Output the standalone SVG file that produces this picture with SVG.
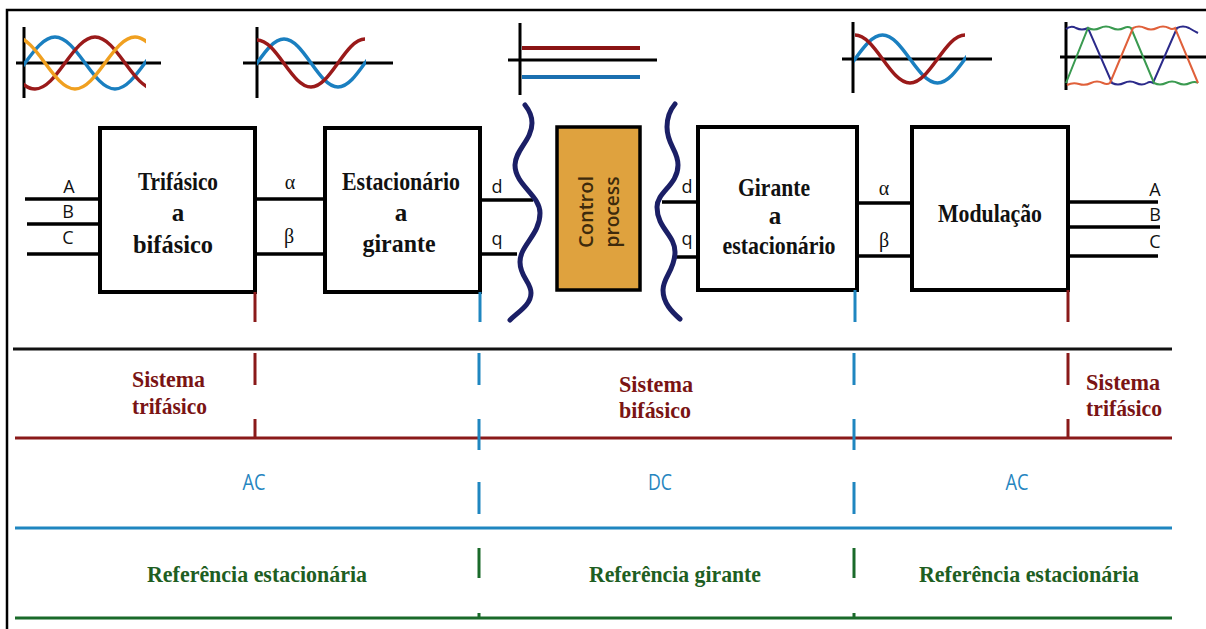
<svg xmlns="http://www.w3.org/2000/svg" width="1206" height="629" viewBox="0 0 1206 629">
<style>
.box{fill:#fff;stroke:#000;stroke-width:4}
.ln{stroke:#000;stroke-width:3.5;fill:none}
.ax{stroke:#000;stroke-width:3;fill:none}
.bt{font-family:"Liberation Serif",serif;font-weight:bold;font-size:25px;fill:#111;text-anchor:middle}
.lb{font-family:"Open Sans","Liberation Sans",sans-serif;font-size:18px;fill:#111;text-anchor:middle}
.gk{font-family:"Liberation Serif",serif;font-size:20px;fill:#111;text-anchor:middle}
.sr{font-family:"Liberation Serif",serif;font-weight:bold;font-size:24px;fill:#7a1414}
.sg{font-family:"Liberation Serif",serif;font-weight:bold;font-size:24px;fill:#1e5e22;text-anchor:middle}
.ac{font-family:"Open Sans","Liberation Sans",sans-serif;font-size:22px;fill:#2585c0;text-anchor:middle}
.cp{font-family:"Open Sans","Liberation Sans",sans-serif;font-size:20px;font-weight:600;fill:#3d2a0c;text-anchor:middle}
.wv{stroke:#1b1f66;stroke-width:5;fill:none;stroke-linecap:round}
.r{stroke:#8a1a1a;stroke-width:3;fill:none}
.b{stroke:#1f86c0;stroke-width:3;fill:none}
.g{stroke:#1a6a2a;stroke-width:3;fill:none}
.sb{stroke:#1a7fc0;stroke-width:3.5;fill:none}
.sred{stroke:#9a1a1a;stroke-width:3.5;fill:none}
.so{stroke:#f0a020;stroke-width:3.5;fill:none}
</style>
<defs>
<clipPath id="c1"><rect x="24" y="0" width="122" height="110"/></clipPath>
<clipPath id="c2"><rect x="257" y="0" width="109" height="110"/></clipPath>
<clipPath id="c4"><rect x="854" y="0" width="112" height="110"/></clipPath>
</defs>
<rect width="1206" height="629" fill="#fff"/>
<path d="M7,629 V10 H1206" stroke="#000" stroke-width="2.5" fill="none"/>

<g id="icons">
<g id="icon1">
<line class="ax" x1="24" y1="27" x2="24" y2="98"/>
<line class="ax" x1="16" y1="63" x2="161" y2="63"/>
<g clip-path="url(#c1)">
<path class="sb" d="M-5,89 C16.8,89 33.2,37 55,37 C76.8,37 93.2,89 115,89 C136.8,89 153.2,37 175,37"/>
<path class="sred" d="M-25,37 C-3.2,37 13.2,89 35,89 C56.8,89 73.2,37 95,37 C116.8,37 133.2,89 155,89"/>
<path class="so" d="M15,37 C36.8,37 53.2,89 75,89 C96.8,89 113.2,37 135,37 C156.8,37 173.2,89 195,89"/>
</g>
</g>
<g id="icon2">
<line class="ax" x1="257" y1="27" x2="257" y2="98"/>
<line class="ax" x1="243" y1="63" x2="393" y2="63"/>
<g clip-path="url(#c2)">
<path class="sb" d="M230,87 C249.7,87 264.3,39 284,39 C303.7,39 318.3,87 338,87 C357.7,87 372.3,39 392,39"/>
<path class="sred" d="M257,40 C276.7,40 291.3,87 311,87 C330.7,87 345.3,39 365,39"/>
</g>
</g>
<g id="icon3">
<line class="ax" x1="520" y1="23" x2="520" y2="95"/>
<line class="ax" x1="508" y1="60" x2="657" y2="60"/>
<line x1="522" y1="48" x2="640" y2="48" stroke="#8a1414" stroke-width="4"/>
<line x1="522" y1="77" x2="640" y2="77" stroke="#1a6fb0" stroke-width="4"/>
</g>
<g id="icon4">
<line class="ax" x1="853" y1="22" x2="853" y2="93"/>
<line class="ax" x1="842" y1="59" x2="992" y2="59"/>
<g clip-path="url(#c4)">
<path class="sb" d="M827.5,83 C847.5,83 862.5,35 882.5,35 C902.5,35 917.5,83 937.5,83 C957.5,83 972.5,35 992.5,35"/>
<path class="sred" d="M855,35 C875,35 890,83 910,83 C930,83 945,35 965,35"/>
</g>
</g>
<g id="icon5">
<line class="ax" x1="1066" y1="22" x2="1066" y2="90"/>
<line class="ax" x1="1060" y1="57" x2="1206" y2="57"/>
<path d="M1066,29 Q1071,25 1076,28 Q1082,31 1088,28 L1112,83 Q1118,86 1124,83 Q1130,80 1136,83 Q1142,86 1147,83 Q1150,81 1153,83 L1177,28 Q1183,25 1189,28 Q1194,31 1198,33" stroke="#2b2a8a" stroke-width="2" fill="none"/>
<path d="M1066,83 L1088,28 Q1094,31 1100,28 Q1106,25 1112,28 Q1118,31 1124,28 Q1128,26 1131,28 L1154,83 Q1160,86 1166,83 Q1172,80 1178,83 Q1184,86 1190,83 Q1195,81 1198,83" stroke="#3a9a50" stroke-width="2" fill="none"/>
<path d="M1067,85 Q1073,82 1079,84 Q1085,86 1091,83 Q1097,80 1103,83 Q1107,85 1110,83 L1133,28 Q1139,25 1145,28 Q1151,31 1157,28 Q1163,25 1169,28 Q1172,30 1175,28 L1198,83" stroke="#e0603a" stroke-width="2" fill="none"/>
</g>
</g>

<g id="connectors">
<line class="ln" x1="25" y1="199" x2="100" y2="199"/>
<line class="ln" x1="27" y1="224" x2="100" y2="224"/>
<line class="ln" x1="27" y1="254" x2="100" y2="254"/>
<line class="ln" x1="255" y1="199" x2="325" y2="199"/>
<line class="ln" x1="255" y1="254" x2="325" y2="254"/>
<line class="ln" x1="480" y1="200" x2="533" y2="200"/>
<line class="ln" x1="480" y1="254" x2="517" y2="254"/>
<line class="ln" x1="662" y1="202" x2="698" y2="202"/>
<line class="ln" x1="675" y1="257" x2="698" y2="257"/>
<line class="ln" x1="857" y1="203" x2="912" y2="203"/>
<line class="ln" x1="857" y1="256" x2="912" y2="256"/>
<line class="ln" x1="1068" y1="202" x2="1158" y2="202"/>
<line class="ln" x1="1068" y1="227" x2="1160" y2="227" stroke-width="2.5"/>
<line class="ln" x1="1068" y1="256" x2="1158" y2="256"/>
<path class="wv" d="M525,105 C529,110 532,116 532,123 C532,140 515,150 515,165 C515,185 540,195 540,213 C540,235 520,245 520,262 C520,277 531,282 531,293 C531,305 518,312 510,320"/>
<path class="wv" d="M675,104 C670,110 667,118 667,127 C667,145 678,150 678,165 C678,185 657,192 657,207 C657,228 675,235 675,252 C675,270 663,277 663,290 C663,303 672,312 680,319"/>
</g>

<g id="labels">
<text class="lb" x="69" y="193">A</text>
<text class="lb" x="68" y="218" font-size="15">B</text>
<text class="lb" x="68" y="244">C</text>
<text class="gk" x="290" y="189">α</text>
<text class="gk" x="289" y="243">β</text>
<text class="lb" x="497" y="193">d</text>
<text class="lb" x="497" y="245">q</text>
<text class="lb" x="687" y="193">d</text>
<text class="lb" x="687" y="245">q</text>
<text class="gk" x="884" y="195">α</text>
<text class="gk" x="884" y="247">β</text>
<text class="lb" x="1155" y="196">A</text>
<text class="lb" x="1155" y="221" font-size="15">B</text>
<text class="lb" x="1155" y="248">C</text>
</g>

<g id="node-trifasico">
<rect class="box" x="100" y="128" width="155" height="164"/>
<text class="bt" x="178" y="190" textLength="80" lengthAdjust="spacingAndGlyphs">Trifásico</text>
<text class="bt" x="178" y="221">a</text>
<text class="bt" x="173" y="253" textLength="80" lengthAdjust="spacingAndGlyphs">bifásico</text>
</g>
<g id="node-estacionario">
<rect class="box" x="325" y="128" width="155" height="164"/>
<text class="bt" x="401" y="190" textLength="118" lengthAdjust="spacingAndGlyphs">Estacionário</text>
<text class="bt" x="401" y="221">a</text>
<text class="bt" x="399" y="252" textLength="73" lengthAdjust="spacingAndGlyphs">girante</text>
</g>
<g id="node-control">
<rect x="557" y="127" width="83" height="163" fill="#dfa23e" stroke="#000" stroke-width="3.5"/>
<text class="cp" transform="translate(593,212) rotate(-90)" textLength="72" lengthAdjust="spacingAndGlyphs">Control</text>
<text class="cp" transform="translate(619,212) rotate(-90)" textLength="71" lengthAdjust="spacingAndGlyphs">process</text>
</g>
<g id="node-girante">
<rect class="box" x="698" y="127" width="159" height="163"/>
<text class="bt" x="774" y="196" textLength="72" lengthAdjust="spacingAndGlyphs">Girante</text>
<text class="bt" x="775" y="224">a</text>
<text class="bt" x="779" y="254" textLength="113" lengthAdjust="spacingAndGlyphs">estacionário</text>
</g>
<g id="node-modulacao">
<rect class="box" x="912" y="127" width="156" height="163"/>
<text class="bt" x="990" y="222" textLength="104" lengthAdjust="spacingAndGlyphs">Modulação</text>
</g>

<g id="bands">
<line x1="255" y1="292" x2="255" y2="322" class="r"/>
<line x1="480" y1="292" x2="480" y2="322" class="b"/>
<line x1="855" y1="290" x2="855" y2="322" class="b"/>
<line x1="1068" y1="290" x2="1068" y2="322" class="r"/>

<line x1="13" y1="349" x2="1172" y2="349" stroke="#111" stroke-width="3"/>
<line x1="15" y1="438" x2="1172" y2="438" class="r"/>
<line x1="15" y1="528" x2="1172" y2="528" class="b"/>
<line x1="15" y1="618" x2="1172" y2="618" class="g"/>

<path class="r" d="M255,353 V385 M255,419 V438 M1068,353 V385 M1068,419 V438"/>
<path class="b" d="M479,353 V385 M479,419 V450 M479,482 V514 M854,353 V385 M854,419 V450 M854,482 V514"/>
<path class="g" d="M479,548 V578 M479,613 V618 M854,548 V578 M854,613 V618"/>

<text class="sr" x="132" y="387" textLength="73" lengthAdjust="spacingAndGlyphs">Sistema</text>
<text class="sr" x="132" y="414" textLength="75" lengthAdjust="spacingAndGlyphs">trifásico</text>
<text class="sr" x="619" y="392" textLength="74" lengthAdjust="spacingAndGlyphs">Sistema</text>
<text class="sr" x="619" y="418" textLength="72" lengthAdjust="spacingAndGlyphs">bifásico</text>
<text class="sr" x="1086" y="390" textLength="74" lengthAdjust="spacingAndGlyphs">Sistema</text>
<text class="sr" x="1086" y="416" textLength="76" lengthAdjust="spacingAndGlyphs">trifásico</text>

<text class="ac" x="254" y="490" textLength="23" lengthAdjust="spacingAndGlyphs">AC</text>
<text class="ac" x="660" y="490" textLength="24" lengthAdjust="spacingAndGlyphs">DC</text>
<text class="ac" x="1017" y="490" textLength="23" lengthAdjust="spacingAndGlyphs">AC</text>

<text class="sg" x="257" y="582" textLength="220" lengthAdjust="spacingAndGlyphs">Referência estacionária</text>
<text class="sg" x="675" y="582" textLength="172" lengthAdjust="spacingAndGlyphs">Referência girante</text>
<text class="sg" x="1029" y="582" textLength="220" lengthAdjust="spacingAndGlyphs">Referência estacionária</text>
</g>
</svg>
